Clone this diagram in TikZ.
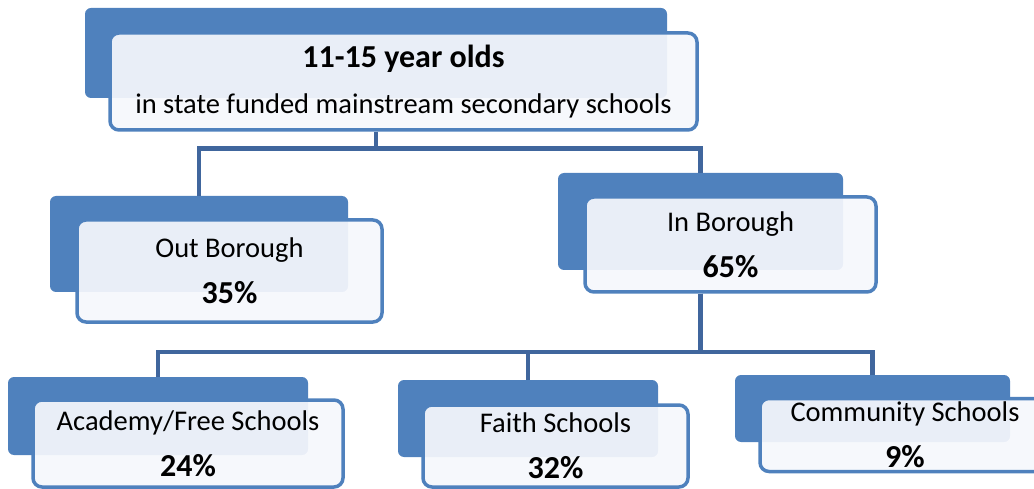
\documentclass[tikz,border=0pt]{standalone}
\usepackage{fontspec}
\setmainfont{Carlito}
\usetikzlibrary{calc,positioning}
\definecolor{boxblue}{RGB}{79,129,189}
\definecolor{linkblue}{RGB}{64,102,157}
\definecolor{paleblue}{RGB}{245,247,252}
\newcommand{\pct}[1]{\textbf{\fontsize{32}{46}\selectfont #1}}
\tikzset{
  backbox/.style={fill=boxblue,draw=none,rounded corners=6pt,inner sep=0pt},
  frontbox/.style={draw=boxblue,line width=3.5pt,fill=paleblue,fill opacity=0.93,
    text opacity=1,rounded corners=9pt,inner sep=0pt,align=center,
    font=\fontsize{28.5}{46}\selectfont},
  link/.style={draw=linkblue,line width=4.5pt}
}
\begin{document}
\begin{tikzpicture}[x=1pt,y=-1pt]
\useasboundingbox (0,0) rectangle (1034,489);

% back boxes
\node[backbox,minimum width=582pt,minimum height=90pt] (topb) at (376,53) {};
\node[backbox,minimum width=298pt,minimum height=96pt] (outb) at (199,244) {};
\node[backbox,minimum width=285pt,minimum height=97pt] (inb) at (700.5,221.5) {};
\node[backbox,minimum width=300pt,minimum height=78pt] (acab) at (158,416) {};
\node[backbox,minimum width=260pt,minimum height=77pt] (faib) at (528,418.5) {};
\node[backbox,minimum width=275pt,minimum height=67pt] (comb) at (872.5,408.5) {};

% front boxes
\node[frontbox,minimum width=587pt,minimum height=97pt] (topf) at (403.5,81.5)
  {\textbf{\fontsize{32}{46}\selectfont 11-15 year olds}\\in state funded mainstream secondary schools};
\node[frontbox,minimum width=305pt,minimum height=102pt] (outf) at (229.5,271)
  {Out Borough\\\pct{35\%}};
\node[frontbox,minimum width=291pt,minimum height=95pt] (inf) at (730.5,244.5)
  {In Borough\\\pct{65\%}};
\node[frontbox,minimum width=310pt,minimum height=87pt] (acaf) at (188,443.5)
  {Academy/Free Schools\\\pct{24\%}};
\node[frontbox,minimum width=265pt,minimum height=82pt] (faif) at (555.5,446)
  {Faith Schools\\\pct{32\%}};
\node[frontbox,minimum width=290pt,minimum height=73pt] (comf) at (905,435)
  {Community Schools\\\pct{9\%}};

% connectors
\draw[link] (topb |- topf.south) -- ++(0,17) -| (outb.north);
\draw[link] (topb |- topf.south) -- ++(0,17) -| (inb.north);
\draw[link] (inb |- inf.south) -- ++(0,58) -| (acab.north);
\draw[link] (inb |- inf.south) -- ++(0,58) -| (faib.north);
\draw[link] (inb |- inf.south) -- ++(0,58) -| (comb.north);
\end{tikzpicture}
\end{document}
